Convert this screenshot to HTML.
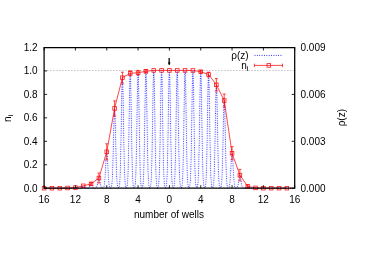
<!DOCTYPE html>
<html><head><meta charset="utf-8"><style>
html,body{margin:0;padding:0;background:#fff;}
svg{display:block;will-change:transform}
text{font-family:"Liberation Sans",sans-serif;font-size:10px;fill:#000}
</style></head><body>
<svg width="366" height="256" viewBox="0 0 366 256">
<rect width="366" height="256" fill="#fff"/>
<path d="M44.1,70.5H294.7" stroke="#a8a8a8" stroke-width="0.7" stroke-dasharray="1.5 1.5" fill="none"/>
<defs><filter id="b" x="-5%" y="-5%" width="110%" height="110%"><feConvolveMatrix order="3" kernelMatrix="0.0036 0.0528 0.0036 0.0528 0.7744 0.0528 0.0036 0.0528 0.0036" divisor="1" preserveAlpha="false"/></filter></defs>
<path d="M44.10,188.20 L44.20,188.20 L44.30,188.20 L44.40,188.20 L44.50,188.20 L44.60,188.20 L44.70,188.20 L44.80,188.20 L44.90,188.20 L45.00,188.20 L45.10,188.20 L45.20,188.20 L45.30,188.20 L45.40,188.20 L45.50,188.20 L45.60,188.20 L45.70,188.20 L45.80,188.20 L45.90,188.20 L46.00,188.20 L46.10,188.20 L46.20,188.20 L46.30,188.20 L46.40,188.20 L46.50,188.20 L46.60,188.20 L46.70,188.20 L46.80,188.20 L46.90,188.20 L47.00,188.20 L47.10,188.20 L47.20,188.20 L47.30,188.20 L47.40,188.20 L47.50,188.20 L47.60,188.20 L47.70,188.20 L47.80,188.20 L47.90,188.20 L48.00,188.20 L48.10,188.20 L48.20,188.20 L48.30,188.20 L48.40,188.20 L48.50,188.20 L48.60,188.20 L48.70,188.20 L48.80,188.20 L48.90,188.20 L49.00,188.20 L49.10,188.20 L49.20,188.20 L49.30,188.20 L49.40,188.20 L49.50,188.20 L49.60,188.20 L49.70,188.20 L49.80,188.20 L49.90,188.20 L50.00,188.20 L50.10,188.20 L50.20,188.20 L50.30,188.20 L50.40,188.20 L50.50,188.20 L50.60,188.20 L50.70,188.20 L50.80,188.20 L50.90,188.20 L51.00,188.20 L51.10,188.20 L51.20,188.20 L51.30,188.20 L51.40,188.20 L51.50,188.20 L51.60,188.20 L51.70,188.20 L51.80,188.20 L51.90,188.20 L52.00,188.20 L52.10,188.20 L52.20,188.20 L52.30,188.20 L52.40,188.20 L52.50,188.20 L52.60,188.20 L52.70,188.20 L52.80,188.20 L52.90,188.20 L53.00,188.20 L53.10,188.20 L53.20,188.20 L53.30,188.20 L53.40,188.20 L53.50,188.20 L53.60,188.20 L53.70,188.20 L53.80,188.20 L53.90,188.20 L54.00,188.20 L54.10,188.20 L54.20,188.20 L54.30,188.20 L54.40,188.20 L54.50,188.20 L54.60,188.20 L54.70,188.20 L54.80,188.20 L54.90,188.20 L55.00,188.20 L55.10,188.20 L55.20,188.20 L55.30,188.20 L55.40,188.20 L55.50,188.20 L55.60,188.20 L55.70,188.20 L55.80,188.20 L55.90,188.20 L56.00,188.20 L56.10,188.20 L56.20,188.20 L56.30,188.20 L56.40,188.20 L56.50,188.20 L56.60,188.20 L56.70,188.20 L56.80,188.20 L56.90,188.20 L57.00,188.20 L57.10,188.20 L57.20,188.20 L57.30,188.20 L57.40,188.20 L57.50,188.20 L57.60,188.20 L57.70,188.20 L57.80,188.20 L57.90,188.20 L58.00,188.20 L58.10,188.20 L58.20,188.20 L58.30,188.20 L58.40,188.20 L58.50,188.20 L58.60,188.20 L58.70,188.20 L58.80,188.20 L58.90,188.20 L59.00,188.20 L59.10,188.20 L59.20,188.20 L59.30,188.20 L59.40,188.20 L59.50,188.20 L59.60,188.20 L59.70,188.20 L59.80,188.20 L59.90,188.20 L60.00,188.20 L60.10,188.20 L60.20,188.20 L60.30,188.20 L60.40,188.20 L60.50,188.20 L60.60,188.20 L60.70,188.20 L60.80,188.20 L60.90,188.20 L61.00,188.20 L61.10,188.20 L61.20,188.20 L61.30,188.20 L61.40,188.20 L61.50,188.20 L61.60,188.20 L61.70,188.20 L61.80,188.20 L61.90,188.20 L62.00,188.20 L62.10,188.20 L62.20,188.20 L62.30,188.20 L62.40,188.20 L62.50,188.20 L62.60,188.20 L62.70,188.20 L62.80,188.20 L62.90,188.20 L63.00,188.20 L63.10,188.20 L63.20,188.20 L63.30,188.20 L63.40,188.20 L63.50,188.20 L63.60,188.20 L63.70,188.20 L63.80,188.20 L63.90,188.20 L64.00,188.20 L64.10,188.20 L64.20,188.20 L64.30,188.20 L64.40,188.20 L64.50,188.20 L64.60,188.19 L64.70,188.19 L64.80,188.19 L64.90,188.19 L65.00,188.19 L65.10,188.18 L65.20,188.18 L65.30,188.18 L65.40,188.17 L65.50,188.17 L65.60,188.16 L65.70,188.15 L65.80,188.15 L65.90,188.14 L66.00,188.13 L66.10,188.12 L66.20,188.11 L66.30,188.10 L66.40,188.09 L66.50,188.08 L66.60,188.07 L66.70,188.06 L66.80,188.04 L66.90,188.04 L67.00,188.03 L67.10,188.02 L67.20,188.01 L67.30,188.01 L67.40,188.00 L67.50,188.00 L67.60,188.00 L67.70,188.00 L67.80,188.00 L67.90,188.01 L68.00,188.01 L68.10,188.02 L68.20,188.03 L68.30,188.04 L68.40,188.05 L68.50,188.06 L68.60,188.07 L68.70,188.08 L68.80,188.09 L68.90,188.10 L69.00,188.11 L69.10,188.12 L69.20,188.13 L69.30,188.14 L69.40,188.15 L69.50,188.16 L69.60,188.16 L69.70,188.17 L69.80,188.17 L69.90,188.18 L70.00,188.18 L70.10,188.19 L70.20,188.19 L70.30,188.19 L70.40,188.19 L70.50,188.19 L70.60,188.20 L70.70,188.20 L70.80,188.20 L70.90,188.20 L71.00,188.20 L71.10,188.20 L71.20,188.20 L71.30,188.20 L71.40,188.20 L71.50,188.20 L71.60,188.20 L71.70,188.20 L71.80,188.20 L71.90,188.20 L72.00,188.20 L72.10,188.19 L72.20,188.19 L72.30,188.19 L72.40,188.19 L72.50,188.18 L72.60,188.18 L72.70,188.17 L72.80,188.16 L72.90,188.16 L73.00,188.15 L73.10,188.13 L73.20,188.12 L73.30,188.11 L73.40,188.09 L73.50,188.07 L73.60,188.05 L73.70,188.02 L73.80,188.00 L73.90,187.97 L74.00,187.94 L74.10,187.91 L74.20,187.87 L74.30,187.84 L74.40,187.81 L74.50,187.78 L74.60,187.74 L74.70,187.71 L74.80,187.69 L74.90,187.66 L75.00,187.64 L75.10,187.62 L75.20,187.61 L75.30,187.60 L75.40,187.60 L75.50,187.60 L75.60,187.61 L75.70,187.62 L75.80,187.64 L75.90,187.66 L76.00,187.68 L76.10,187.71 L76.20,187.73 L76.30,187.77 L76.40,187.80 L76.50,187.83 L76.60,187.86 L76.70,187.90 L76.80,187.93 L76.90,187.96 L77.00,187.99 L77.10,188.01 L77.20,188.04 L77.30,188.06 L77.40,188.08 L77.50,188.10 L77.60,188.12 L77.70,188.13 L77.80,188.14 L77.90,188.15 L78.00,188.16 L78.10,188.17 L78.20,188.18 L78.30,188.18 L78.40,188.18 L78.50,188.19 L78.60,188.19 L78.70,188.19 L78.80,188.19 L78.90,188.20 L79.00,188.20 L79.10,188.20 L79.20,188.20 L79.30,188.19 L79.40,188.19 L79.50,188.19 L79.60,188.19 L79.70,188.19 L79.80,188.18 L79.90,188.18 L80.00,188.17 L80.10,188.16 L80.20,188.15 L80.30,188.13 L80.40,188.12 L80.50,188.09 L80.60,188.07 L80.70,188.04 L80.80,188.00 L80.90,187.95 L81.00,187.90 L81.10,187.84 L81.20,187.78 L81.30,187.70 L81.40,187.61 L81.50,187.52 L81.60,187.42 L81.70,187.31 L81.80,187.19 L81.90,187.07 L82.00,186.94 L82.10,186.81 L82.20,186.68 L82.30,186.54 L82.40,186.42 L82.50,186.30 L82.60,186.18 L82.70,186.08 L82.80,185.99 L82.90,185.92 L83.00,185.86 L83.10,185.82 L83.20,185.80 L83.30,185.80 L83.40,185.82 L83.50,185.86 L83.60,185.92 L83.70,185.99 L83.80,186.08 L83.90,186.19 L84.00,186.30 L84.10,186.42 L84.20,186.55 L84.30,186.68 L84.40,186.81 L84.50,186.94 L84.60,187.07 L84.70,187.20 L84.80,187.31 L84.90,187.42 L85.00,187.52 L85.10,187.62 L85.20,187.70 L85.30,187.78 L85.40,187.85 L85.50,187.90 L85.60,187.96 L85.70,188.00 L85.80,188.04 L85.90,188.07 L86.00,188.09 L86.10,188.12 L86.20,188.13 L86.30,188.15 L86.40,188.16 L86.50,188.17 L86.60,188.18 L86.70,188.18 L86.80,188.18 L86.90,188.19 L87.00,188.19 L87.10,188.19 L87.20,188.19 L87.30,188.19 L87.40,188.18 L87.50,188.18 L87.60,188.17 L87.70,188.16 L87.80,188.15 L87.90,188.13 L88.00,188.11 L88.10,188.09 L88.20,188.06 L88.30,188.02 L88.40,187.98 L88.50,187.93 L88.60,187.86 L88.70,187.79 L88.80,187.70 L88.90,187.60 L89.00,187.48 L89.10,187.35 L89.20,187.20 L89.30,187.04 L89.40,186.86 L89.50,186.67 L89.60,186.46 L89.70,186.24 L89.80,186.02 L89.90,185.78 L90.00,185.54 L90.10,185.31 L90.20,185.08 L90.30,184.86 L90.40,184.65 L90.50,184.46 L90.60,184.29 L90.70,184.15 L90.80,184.04 L90.90,183.96 L91.00,183.91 L91.10,183.90 L91.20,183.93 L91.30,183.99 L91.40,184.08 L91.50,184.20 L91.60,184.35 L91.70,184.53 L91.80,184.73 L91.90,184.94 L92.00,185.17 L92.10,185.40 L92.20,185.64 L92.30,185.88 L92.40,186.11 L92.50,186.33 L92.60,186.54 L92.70,186.75 L92.80,186.93 L92.90,187.11 L93.00,187.26 L93.10,187.40 L93.20,187.53 L93.30,187.64 L93.40,187.73 L93.50,187.82 L93.60,187.89 L93.70,187.95 L93.80,188.00 L93.90,188.04 L94.00,188.07 L94.10,188.10 L94.20,188.12 L94.30,188.14 L94.40,188.15 L94.50,188.16 L94.60,188.17 L94.70,188.17 L94.80,188.18 L94.90,188.18 L95.00,188.17 L95.10,188.17 L95.20,188.16 L95.30,188.15 L95.40,188.14 L95.50,188.12 L95.60,188.09 L95.70,188.06 L95.80,188.01 L95.90,187.96 L96.00,187.89 L96.10,187.81 L96.20,187.71 L96.30,187.59 L96.40,187.45 L96.50,187.28 L96.60,187.08 L96.70,186.85 L96.80,186.59 L96.90,186.29 L97.00,185.95 L97.10,185.57 L97.20,185.16 L97.30,184.71 L97.40,184.23 L97.50,183.72 L97.60,183.19 L97.70,182.64 L97.80,182.08 L97.90,181.52 L98.00,180.97 L98.10,180.43 L98.20,179.93 L98.30,179.46 L98.40,179.05 L98.50,178.69 L98.60,178.40 L98.70,178.19 L98.80,178.05 L98.90,178.00 L99.00,178.03 L99.10,178.15 L99.20,178.34 L99.30,178.62 L99.40,178.96 L99.50,179.36 L99.60,179.81 L99.70,180.31 L99.80,180.84 L99.90,181.39 L100.00,181.95 L100.10,182.51 L100.20,183.06 L100.30,183.60 L100.40,184.11 L100.50,184.60 L100.60,185.06 L100.70,185.48 L100.80,185.86 L100.90,186.21 L101.00,186.52 L101.10,186.79 L101.20,187.03 L101.30,187.23 L101.40,187.41 L101.50,187.56 L101.60,187.68 L101.70,187.79 L101.80,187.87 L101.90,187.94 L102.00,188.00 L102.10,188.04 L102.20,188.08 L102.30,188.10 L102.40,188.12 L102.50,188.13 L102.60,188.13 L102.70,188.13 L102.80,188.12 L102.90,188.10 L103.00,188.08 L103.10,188.04 L103.20,187.99 L103.30,187.93 L103.40,187.84 L103.50,187.73 L103.60,187.59 L103.70,187.41 L103.80,187.19 L103.90,186.91 L104.00,186.58 L104.10,186.17 L104.20,185.69 L104.30,185.12 L104.40,184.44 L104.50,183.66 L104.60,182.75 L104.70,181.72 L104.80,180.56 L104.90,179.27 L105.00,177.84 L105.10,176.29 L105.20,174.61 L105.30,172.82 L105.40,170.94 L105.50,169.00 L105.60,167.00 L105.70,165.00 L105.80,163.01 L105.90,161.08 L106.00,159.24 L106.10,157.53 L106.20,155.99 L106.30,154.65 L106.40,153.54 L106.50,152.68 L106.60,152.11 L106.70,151.83 L106.80,151.85 L106.90,152.16 L107.00,152.77 L107.10,153.66 L107.20,154.80 L107.30,156.17 L107.40,157.73 L107.50,159.46 L107.60,161.31 L107.70,163.25 L107.80,165.24 L107.90,167.25 L108.00,169.23 L108.10,171.17 L108.20,173.04 L108.30,174.82 L108.40,176.48 L108.50,178.02 L108.60,179.43 L108.70,180.71 L108.80,181.85 L108.90,182.87 L109.00,183.76 L109.10,184.53 L109.20,185.19 L109.30,185.75 L109.40,186.23 L109.50,186.62 L109.60,186.95 L109.70,187.21 L109.80,187.43 L109.90,187.60 L110.00,187.73 L110.10,187.83 L110.20,187.91 L110.30,187.96 L110.40,188.00 L110.50,188.01 L110.60,188.01 L110.70,187.98 L110.80,187.94 L110.90,187.87 L111.00,187.77 L111.10,187.64 L111.20,187.47 L111.30,187.25 L111.40,186.96 L111.50,186.60 L111.60,186.14 L111.70,185.58 L111.80,184.89 L111.90,184.06 L112.00,183.06 L112.10,181.86 L112.20,180.46 L112.30,178.82 L112.40,176.92 L112.50,174.75 L112.60,172.30 L112.70,169.56 L112.80,166.53 L112.90,163.20 L113.00,159.61 L113.10,155.76 L113.20,151.71 L113.30,147.48 L113.40,143.14 L113.50,138.74 L113.60,134.37 L113.70,130.08 L113.80,125.98 L113.90,122.13 L114.00,118.62 L114.10,115.53 L114.20,112.93 L114.30,110.87 L114.40,109.41 L114.50,108.59 L114.60,108.42 L114.70,108.91 L114.80,110.04 L114.90,111.79 L115.00,114.11 L115.10,116.96 L115.20,120.26 L115.30,123.94 L115.40,127.92 L115.50,132.12 L115.60,136.46 L115.70,140.85 L115.80,145.23 L115.90,149.53 L116.00,153.68 L116.10,157.64 L116.20,161.37 L116.30,164.83 L116.40,168.02 L116.50,170.91 L116.60,173.52 L116.70,175.83 L116.80,177.86 L116.90,179.63 L117.00,181.16 L117.10,182.46 L117.20,183.56 L117.30,184.48 L117.40,185.24 L117.50,185.86 L117.60,186.37 L117.70,186.77 L117.80,187.09 L117.90,187.34 L118.00,187.54 L118.10,187.68 L118.20,187.78 L118.30,187.84 L118.40,187.87 L118.50,187.86 L118.60,187.82 L118.70,187.75 L118.80,187.64 L118.90,187.48 L119.00,187.27 L119.10,186.98 L119.20,186.62 L119.30,186.15 L119.40,185.57 L119.50,184.84 L119.60,183.95 L119.70,182.86 L119.80,181.55 L119.90,179.99 L120.00,178.14 L120.10,175.97 L120.20,173.46 L120.30,170.58 L120.40,167.32 L120.50,163.65 L120.60,159.58 L120.70,155.10 L120.80,150.24 L120.90,145.02 L121.00,139.49 L121.10,133.71 L121.20,127.74 L121.30,121.67 L121.40,115.59 L121.50,109.60 L121.60,103.83 L121.70,98.37 L121.80,93.35 L121.90,88.88 L122.00,85.05 L122.10,81.95 L122.20,79.66 L122.30,78.23 L122.40,77.70 L122.50,78.09 L122.60,79.37 L122.70,81.53 L122.80,84.50 L122.90,88.22 L123.00,92.60 L123.10,97.54 L123.20,102.93 L123.30,108.66 L123.40,114.62 L123.50,120.69 L123.60,126.77 L123.70,132.76 L123.80,138.58 L123.90,144.16 L124.00,149.43 L124.10,154.35 L124.20,158.89 L124.30,163.03 L124.40,166.76 L124.50,170.09 L124.60,173.03 L124.70,175.59 L124.80,177.81 L124.90,179.71 L125.00,181.32 L125.10,182.67 L125.20,183.79 L125.30,184.71 L125.40,185.46 L125.50,186.06 L125.60,186.54 L125.70,186.92 L125.80,187.21 L125.90,187.44 L126.00,187.60 L126.10,187.71 L126.20,187.77 L126.30,187.80 L126.40,187.79 L126.50,187.74 L126.60,187.64 L126.70,187.50 L126.80,187.30 L126.90,187.03 L127.00,186.68 L127.10,186.23 L127.20,185.67 L127.30,184.96 L127.40,184.10 L127.50,183.03 L127.60,181.75 L127.70,180.21 L127.80,178.38 L127.90,176.24 L128.00,173.75 L128.10,170.88 L128.20,167.62 L128.30,163.94 L128.40,159.84 L128.50,155.32 L128.60,150.39 L128.70,145.08 L128.80,139.43 L128.90,133.49 L129.00,127.33 L129.10,121.04 L129.20,114.71 L129.30,108.45 L129.40,102.36 L129.50,96.57 L129.60,91.19 L129.70,86.34 L129.80,82.13 L129.90,78.66 L130.00,76.00 L130.10,74.23 L130.20,73.38 L130.30,73.47 L130.40,74.51 L130.50,76.47 L130.60,79.29 L130.70,82.92 L130.80,87.27 L130.90,92.23 L131.00,97.70 L131.10,103.56 L131.20,109.69 L131.30,115.98 L131.40,122.31 L131.50,128.58 L131.60,134.70 L131.70,140.58 L131.80,146.17 L131.90,151.40 L132.00,156.25 L132.10,160.69 L132.20,164.71 L132.30,168.30 L132.40,171.49 L132.50,174.28 L132.60,176.70 L132.70,178.77 L132.80,180.54 L132.90,182.02 L133.00,183.26 L133.10,184.28 L133.20,185.12 L133.30,185.79 L133.40,186.33 L133.50,186.76 L133.60,187.09 L133.70,187.34 L133.80,187.53 L133.90,187.66 L134.00,187.74 L134.10,187.79 L134.20,187.79 L134.30,187.75 L134.40,187.67 L134.50,187.54 L134.60,187.36 L134.70,187.12 L134.80,186.79 L134.90,186.38 L135.00,185.85 L135.10,185.19 L135.20,184.37 L135.30,183.37 L135.40,182.16 L135.50,180.70 L135.60,178.96 L135.70,176.91 L135.80,174.52 L135.90,171.76 L136.00,168.61 L136.10,165.05 L136.20,161.07 L136.30,156.66 L136.40,151.83 L136.50,146.62 L136.60,141.04 L136.70,135.16 L136.80,129.04 L136.90,122.75 L137.00,116.39 L137.10,110.07 L137.20,103.88 L137.30,97.95 L137.40,92.40 L137.50,87.35 L137.60,82.90 L137.70,79.17 L137.80,76.23 L137.90,74.15 L138.00,73.00 L138.10,72.79 L138.20,73.53 L138.30,75.20 L138.40,77.77 L138.50,81.17 L138.60,85.31 L138.70,90.11 L138.80,95.46 L138.90,101.23 L139.00,107.32 L139.10,113.60 L139.20,119.96 L139.30,126.29 L139.40,132.49 L139.50,138.49 L139.60,144.21 L139.70,149.59 L139.80,154.59 L139.90,159.18 L140.00,163.35 L140.10,167.10 L140.20,170.43 L140.30,173.36 L140.40,175.90 L140.50,178.10 L140.60,179.97 L140.70,181.55 L140.80,182.87 L140.90,183.96 L141.00,184.85 L141.10,185.58 L141.20,186.16 L141.30,186.62 L141.40,186.99 L141.50,187.26 L141.60,187.47 L141.70,187.62 L141.80,187.72 L141.90,187.77 L142.00,187.79 L142.10,187.76 L142.20,187.70 L142.30,187.58 L142.40,187.42 L142.50,187.19 L142.60,186.89 L142.70,186.50 L142.80,186.01 L142.90,185.38 L143.00,184.61 L143.10,183.66 L143.20,182.50 L143.30,181.10 L143.40,179.44 L143.50,177.47 L143.60,175.16 L143.70,172.49 L143.80,169.43 L143.90,165.96 L144.00,162.06 L144.10,157.74 L144.20,152.98 L144.30,147.83 L144.40,142.29 L144.50,136.43 L144.60,130.30 L144.70,123.98 L144.80,117.55 L144.90,111.12 L145.00,104.80 L145.10,98.70 L145.20,92.95 L145.30,87.66 L145.40,82.95 L145.50,78.92 L145.60,75.68 L145.70,73.29 L145.80,71.82 L145.90,71.30 L146.00,71.74 L146.10,73.14 L146.20,75.46 L146.30,78.63 L146.40,82.60 L146.50,87.26 L146.60,92.51 L146.70,98.23 L146.80,104.30 L146.90,110.61 L147.00,117.04 L147.10,123.47 L147.20,129.80 L147.30,135.95 L147.40,141.84 L147.50,147.40 L147.60,152.59 L147.70,157.37 L147.80,161.73 L147.90,165.67 L148.00,169.17 L148.10,172.26 L148.20,174.96 L148.30,177.30 L148.40,179.29 L148.50,180.98 L148.60,182.40 L148.70,183.57 L148.80,184.54 L148.90,185.33 L149.00,185.96 L149.10,186.47 L149.20,186.86 L149.30,187.17 L149.40,187.40 L149.50,187.57 L149.60,187.69 L149.70,187.76 L149.80,187.78 L149.90,187.77 L150.00,187.72 L150.10,187.62 L150.20,187.47 L150.30,187.26 L150.40,186.99 L150.50,186.63 L150.60,186.16 L150.70,185.58 L150.80,184.85 L150.90,183.95 L151.00,182.85 L151.10,181.53 L151.20,179.94 L151.30,178.06 L151.40,175.84 L151.50,173.28 L151.60,170.32 L151.70,166.96 L151.80,163.17 L151.90,158.94 L152.00,154.29 L152.10,149.22 L152.20,143.76 L152.30,137.96 L152.40,131.86 L152.50,125.54 L152.60,119.09 L152.70,112.60 L152.80,106.18 L152.90,99.95 L153.00,94.03 L153.10,88.53 L153.20,83.59 L153.30,79.30 L153.40,75.77 L153.50,73.08 L153.60,71.30 L153.70,70.46 L153.80,70.60 L153.90,71.70 L154.00,73.74 L154.10,76.68 L154.20,80.43 L154.30,84.91 L154.40,90.02 L154.50,95.65 L154.60,101.67 L154.70,107.96 L154.80,114.41 L154.90,120.90 L155.00,127.33 L155.10,133.59 L155.20,139.61 L155.30,145.33 L155.40,150.68 L155.50,155.64 L155.60,160.17 L155.70,164.27 L155.80,167.94 L155.90,171.19 L156.00,174.03 L156.10,176.50 L156.20,178.61 L156.30,180.41 L156.40,181.92 L156.50,183.18 L156.60,184.22 L156.70,185.07 L156.80,185.76 L156.90,186.30 L157.00,186.74 L157.10,187.07 L157.20,187.33 L157.30,187.52 L157.40,187.65 L157.50,187.74 L157.60,187.78 L157.70,187.78 L157.80,187.74 L157.90,187.66 L158.00,187.52 L158.10,187.34 L158.20,187.08 L158.30,186.75 L158.40,186.32 L158.50,185.78 L158.60,185.10 L158.70,184.26 L158.80,183.23 L158.90,181.98 L159.00,180.48 L159.10,178.69 L159.20,176.59 L159.30,174.14 L159.40,171.31 L159.50,168.08 L159.60,164.43 L159.70,160.34 L159.80,155.83 L159.90,150.89 L160.00,145.55 L160.10,139.85 L160.20,133.84 L160.30,127.58 L160.40,121.16 L160.50,114.67 L160.60,108.22 L160.70,101.91 L160.80,95.88 L160.90,90.24 L161.00,85.10 L161.10,80.59 L161.20,76.81 L161.30,73.84 L161.40,71.77 L161.50,70.62 L161.60,70.45 L161.70,71.25 L161.80,72.99 L161.90,75.65 L162.00,79.14 L162.10,83.40 L162.20,88.32 L162.30,93.80 L162.40,99.71 L162.50,105.93 L162.60,112.34 L162.70,118.83 L162.80,125.28 L162.90,131.61 L163.00,137.72 L163.10,143.54 L163.20,149.01 L163.30,154.10 L163.40,158.77 L163.50,163.01 L163.60,166.81 L163.70,170.19 L163.80,173.16 L163.90,175.75 L164.00,177.97 L164.10,179.87 L164.20,181.47 L164.30,182.81 L164.40,183.91 L164.50,184.82 L164.60,185.55 L164.70,186.14 L164.80,186.61 L164.90,186.97 L165.00,187.25 L165.10,187.46 L165.20,187.61 L165.30,187.71 L165.40,187.77 L165.50,187.78 L165.60,187.76 L165.70,187.69 L165.80,187.57 L165.90,187.40 L166.00,187.17 L166.10,186.87 L166.20,186.47 L166.30,185.97 L166.40,185.33 L166.50,184.55 L166.60,183.58 L166.70,182.41 L166.80,180.99 L166.90,179.30 L167.00,177.30 L167.10,174.96 L167.20,172.26 L167.30,169.16 L167.40,165.64 L167.50,161.70 L167.60,157.32 L167.70,152.51 L167.80,147.30 L167.90,141.71 L168.00,135.79 L168.10,129.61 L168.20,123.23 L168.30,116.75 L168.40,110.27 L168.50,103.91 L168.60,97.77 L168.70,91.99 L168.80,86.68 L168.90,81.96 L169.00,77.94 L169.10,74.70 L169.20,72.33 L169.30,70.89 L169.40,70.40 L169.50,70.89 L169.60,72.33 L169.70,74.70 L169.80,77.94 L169.90,81.96 L170.00,86.68 L170.10,91.99 L170.20,97.77 L170.30,103.91 L170.40,110.27 L170.50,116.75 L170.60,123.23 L170.70,129.61 L170.80,135.79 L170.90,141.71 L171.00,147.30 L171.10,152.51 L171.20,157.32 L171.30,161.70 L171.40,165.64 L171.50,169.16 L171.60,172.26 L171.70,174.96 L171.80,177.30 L171.90,179.30 L172.00,180.99 L172.10,182.41 L172.20,183.58 L172.30,184.55 L172.40,185.33 L172.50,185.97 L172.60,186.47 L172.70,186.87 L172.80,187.17 L172.90,187.40 L173.00,187.57 L173.10,187.69 L173.20,187.76 L173.30,187.78 L173.40,187.77 L173.50,187.71 L173.60,187.61 L173.70,187.46 L173.80,187.25 L173.90,186.97 L174.00,186.61 L174.10,186.14 L174.20,185.55 L174.30,184.82 L174.40,183.91 L174.50,182.81 L174.60,181.47 L174.70,179.87 L174.80,177.97 L174.90,175.75 L175.00,173.16 L175.10,170.19 L175.20,166.81 L175.30,163.01 L175.40,158.77 L175.50,154.10 L175.60,149.01 L175.70,143.54 L175.80,137.72 L175.90,131.61 L176.00,125.28 L176.10,118.83 L176.20,112.34 L176.30,105.93 L176.40,99.71 L176.50,93.80 L176.60,88.32 L176.70,83.40 L176.80,79.14 L176.90,75.65 L177.00,72.99 L177.10,71.25 L177.20,70.45 L177.30,70.62 L177.40,71.77 L177.50,73.84 L177.60,76.81 L177.70,80.59 L177.80,85.10 L177.90,90.24 L178.00,95.88 L178.10,101.91 L178.20,108.22 L178.30,114.67 L178.40,121.16 L178.50,127.58 L178.60,133.84 L178.70,139.85 L178.80,145.55 L178.90,150.89 L179.00,155.83 L179.10,160.34 L179.20,164.43 L179.30,168.08 L179.40,171.31 L179.50,174.14 L179.60,176.59 L179.70,178.69 L179.80,180.48 L179.90,181.98 L180.00,183.23 L180.10,184.26 L180.20,185.10 L180.30,185.78 L180.40,186.32 L180.50,186.75 L180.60,187.08 L180.70,187.34 L180.80,187.52 L180.90,187.66 L181.00,187.74 L181.10,187.78 L181.20,187.78 L181.30,187.74 L181.40,187.65 L181.50,187.52 L181.60,187.33 L181.70,187.07 L181.80,186.74 L181.90,186.30 L182.00,185.76 L182.10,185.07 L182.20,184.22 L182.30,183.18 L182.40,181.92 L182.50,180.41 L182.60,178.61 L182.70,176.50 L182.80,174.03 L182.90,171.19 L183.00,167.94 L183.10,164.27 L183.20,160.17 L183.30,155.64 L183.40,150.68 L183.50,145.33 L183.60,139.61 L183.70,133.59 L183.80,127.33 L183.90,120.90 L184.00,114.41 L184.10,107.96 L184.20,101.67 L184.30,95.65 L184.40,90.02 L184.50,84.91 L184.60,80.43 L184.70,76.68 L184.80,73.74 L184.90,71.70 L185.00,70.60 L185.10,70.46 L185.20,71.30 L185.30,73.08 L185.40,75.77 L185.50,79.30 L185.60,83.59 L185.70,88.53 L185.80,94.03 L185.90,99.95 L186.00,106.18 L186.10,112.60 L186.20,119.09 L186.30,125.54 L186.40,131.86 L186.50,137.96 L186.60,143.76 L186.70,149.22 L186.80,154.29 L186.90,158.94 L187.00,163.17 L187.10,166.96 L187.20,170.32 L187.30,173.28 L187.40,175.84 L187.50,178.06 L187.60,179.94 L187.70,181.53 L187.80,182.85 L187.90,183.95 L188.00,184.85 L188.10,185.58 L188.20,186.16 L188.30,186.63 L188.40,186.99 L188.50,187.26 L188.60,187.47 L188.70,187.62 L188.80,187.72 L188.90,187.77 L189.00,187.78 L189.10,187.75 L189.20,187.68 L189.30,187.57 L189.40,187.40 L189.50,187.16 L189.60,186.85 L189.70,186.46 L189.80,185.95 L189.90,185.31 L190.00,184.52 L190.10,183.54 L190.20,182.36 L190.30,180.93 L190.40,179.23 L190.50,177.22 L190.60,174.87 L190.70,172.15 L190.80,169.04 L190.90,165.51 L191.00,161.55 L191.10,157.16 L191.20,152.34 L191.30,147.12 L191.40,141.52 L191.50,135.59 L191.60,129.40 L191.70,123.03 L191.80,116.55 L191.90,110.08 L192.00,103.73 L192.10,97.61 L192.20,91.85 L192.30,86.57 L192.40,81.88 L192.50,77.89 L192.60,74.69 L192.70,72.35 L192.80,70.95 L192.90,70.50 L193.00,71.02 L193.10,72.51 L193.20,74.91 L193.30,78.18 L193.40,82.23 L193.50,86.97 L193.60,92.30 L193.70,98.09 L193.80,104.23 L193.90,110.60 L194.00,117.07 L194.10,123.54 L194.20,129.91 L194.30,136.08 L194.40,141.98 L194.50,147.55 L194.60,152.74 L194.70,157.53 L194.80,161.89 L194.90,165.81 L195.00,169.31 L195.10,172.39 L195.20,175.07 L195.30,177.39 L195.40,179.38 L195.50,181.06 L195.60,182.46 L195.70,183.63 L195.80,184.59 L195.90,185.37 L196.00,185.99 L196.10,186.49 L196.20,186.88 L196.30,187.18 L196.40,187.41 L196.50,187.58 L196.60,187.69 L196.70,187.76 L196.80,187.79 L196.90,187.77 L197.00,187.71 L197.10,187.61 L197.20,187.46 L197.30,187.25 L197.40,186.97 L197.50,186.61 L197.60,186.14 L197.70,185.56 L197.80,184.82 L197.90,183.92 L198.00,182.82 L198.10,181.49 L198.20,179.89 L198.30,178.00 L198.40,175.79 L198.50,173.22 L198.60,170.27 L198.70,166.91 L198.80,163.13 L198.90,158.92 L199.00,154.28 L199.10,149.23 L199.20,143.81 L199.30,138.04 L199.40,131.99 L199.50,125.73 L199.60,119.34 L199.70,112.92 L199.80,106.58 L199.90,100.44 L200.00,94.61 L200.10,89.22 L200.20,84.38 L200.30,80.19 L200.40,76.77 L200.50,74.18 L200.60,72.49 L200.70,71.74 L200.80,71.95 L200.90,73.12 L201.00,75.21 L201.10,78.17 L201.20,81.95 L201.30,86.43 L201.40,91.53 L201.50,97.13 L201.60,103.11 L201.70,109.35 L201.80,115.74 L201.90,122.16 L202.00,128.50 L202.10,134.68 L202.20,140.61 L202.30,146.24 L202.40,151.50 L202.50,156.37 L202.60,160.82 L202.70,164.84 L202.80,168.44 L202.90,171.62 L203.00,174.40 L203.10,176.81 L203.20,178.87 L203.30,180.63 L203.40,182.10 L203.50,183.33 L203.60,184.34 L203.70,185.17 L203.80,185.83 L203.90,186.36 L204.00,186.78 L204.10,187.11 L204.20,187.36 L204.30,187.54 L204.40,187.67 L204.50,187.75 L204.60,187.79 L204.70,187.79 L204.80,187.75 L204.90,187.66 L205.00,187.53 L205.10,187.35 L205.20,187.10 L205.30,186.77 L205.40,186.35 L205.50,185.82 L205.60,185.15 L205.70,184.32 L205.80,183.31 L205.90,182.09 L206.00,180.62 L206.10,178.87 L206.20,176.82 L206.30,174.42 L206.40,171.66 L206.50,168.51 L206.60,164.95 L206.70,160.98 L206.80,156.59 L206.90,151.79 L207.00,146.61 L207.10,141.08 L207.20,135.25 L207.30,129.20 L207.40,123.00 L207.50,116.73 L207.60,110.51 L207.70,104.44 L207.80,98.64 L207.90,93.23 L208.00,88.32 L208.10,84.02 L208.20,80.43 L208.30,77.63 L208.40,75.70 L208.50,74.67 L208.60,74.58 L208.70,75.42 L208.80,77.17 L208.90,79.80 L209.00,83.24 L209.10,87.41 L209.20,92.20 L209.30,97.52 L209.40,103.26 L209.50,109.28 L209.60,115.48 L209.70,121.74 L209.80,127.97 L209.90,134.06 L210.00,139.94 L210.10,145.53 L210.20,150.78 L210.30,155.66 L210.40,160.13 L210.50,164.19 L210.60,167.83 L210.70,171.06 L210.80,173.90 L210.90,176.37 L211.00,178.49 L211.10,180.29 L211.20,181.82 L211.30,183.09 L211.40,184.14 L211.50,185.00 L211.60,185.70 L211.70,186.25 L211.80,186.70 L211.90,187.04 L212.00,187.31 L212.10,187.51 L212.20,187.65 L212.30,187.75 L212.40,187.80 L212.50,187.82 L212.60,187.79 L212.70,187.73 L212.80,187.63 L212.90,187.48 L213.00,187.28 L213.10,187.00 L213.20,186.65 L213.30,186.20 L213.40,185.63 L213.50,184.93 L213.60,184.07 L213.70,183.02 L213.80,181.76 L213.90,180.25 L214.00,178.48 L214.10,176.40 L214.20,174.00 L214.30,171.25 L214.40,168.14 L214.50,164.64 L214.60,160.77 L214.70,156.52 L214.80,151.92 L214.90,146.99 L215.00,141.77 L215.10,136.33 L215.20,130.72 L215.30,125.03 L215.40,119.35 L215.50,113.77 L215.60,108.41 L215.70,103.36 L215.80,98.74 L215.90,94.64 L216.00,91.16 L216.10,88.38 L216.20,86.36 L216.30,85.16 L216.40,84.80 L216.50,85.30 L216.60,86.63 L216.70,88.77 L216.80,91.67 L216.90,95.26 L217.00,99.45 L217.10,104.15 L217.20,109.25 L217.30,114.65 L217.40,120.25 L217.50,125.94 L217.60,131.62 L217.70,137.21 L217.80,142.62 L217.90,147.80 L218.00,152.68 L218.10,157.23 L218.20,161.42 L218.30,165.23 L218.40,168.66 L218.50,171.72 L218.60,174.41 L218.70,176.76 L218.80,178.78 L218.90,180.51 L219.00,181.98 L219.10,183.20 L219.20,184.22 L219.30,185.06 L219.40,185.74 L219.50,186.28 L219.60,186.72 L219.70,187.06 L219.80,187.32 L219.90,187.52 L220.00,187.67 L220.10,187.77 L220.20,187.83 L220.30,187.86 L220.40,187.86 L220.50,187.82 L220.60,187.75 L220.70,187.63 L220.80,187.48 L220.90,187.26 L221.00,186.99 L221.10,186.63 L221.20,186.19 L221.30,185.63 L221.40,184.95 L221.50,184.11 L221.60,183.10 L221.70,181.89 L221.80,180.46 L221.90,178.79 L222.00,176.84 L222.10,174.60 L222.20,172.06 L222.30,169.20 L222.40,166.02 L222.50,162.52 L222.60,158.71 L222.70,154.61 L222.80,150.26 L222.90,145.70 L223.00,140.98 L223.10,136.17 L223.20,131.34 L223.30,126.57 L223.40,121.96 L223.50,117.58 L223.60,113.53 L223.70,109.91 L223.80,106.78 L223.90,104.22 L224.00,102.30 L224.10,101.06 L224.20,100.52 L224.30,100.71 L224.40,101.62 L224.50,103.22 L224.60,105.48 L224.70,108.34 L224.80,111.74 L224.90,115.59 L225.00,119.82 L225.10,124.33 L225.20,129.04 L225.30,133.85 L225.40,138.68 L225.50,143.45 L225.60,148.09 L225.70,152.55 L225.80,156.78 L225.90,160.73 L226.00,164.38 L226.10,167.72 L226.20,170.73 L226.30,173.42 L226.40,175.80 L226.50,177.89 L226.60,179.69 L226.70,181.24 L226.80,182.55 L226.90,183.65 L227.00,184.57 L227.10,185.32 L227.20,185.94 L227.30,186.44 L227.40,186.84 L227.50,187.15 L227.60,187.40 L227.70,187.59 L227.80,187.74 L227.90,187.84 L228.00,187.92 L228.10,187.97 L228.20,188.00 L228.30,188.01 L228.40,188.00 L228.50,187.97 L228.60,187.92 L228.70,187.84 L228.80,187.75 L228.90,187.62 L229.00,187.45 L229.10,187.25 L229.20,186.99 L229.30,186.68 L229.40,186.30 L229.50,185.85 L229.60,185.30 L229.70,184.67 L229.80,183.93 L229.90,183.07 L230.00,182.10 L230.10,181.00 L230.20,179.77 L230.30,178.41 L230.40,176.93 L230.50,175.33 L230.60,173.62 L230.70,171.83 L230.80,169.96 L230.90,168.05 L231.00,166.12 L231.10,164.21 L231.20,162.34 L231.30,160.56 L231.40,158.90 L231.50,157.40 L231.60,156.08 L231.70,154.99 L231.80,154.14 L231.90,153.55 L232.00,153.25 L232.10,153.23 L232.20,153.50 L232.30,154.05 L232.40,154.87 L232.50,155.94 L232.60,157.23 L232.70,158.71 L232.80,160.36 L232.90,162.12 L233.00,163.98 L233.10,165.89 L233.20,167.82 L233.30,169.74 L233.40,171.61 L233.50,173.41 L233.60,175.13 L233.70,176.74 L233.80,178.24 L233.90,179.61 L234.00,180.86 L234.10,181.97 L234.20,182.96 L234.30,183.83 L234.40,184.59 L234.50,185.23 L234.60,185.79 L234.70,186.25 L234.80,186.64 L234.90,186.96 L235.00,187.23 L235.10,187.44 L235.20,187.61 L235.30,187.75 L235.40,187.85 L235.50,187.94 L235.60,188.00 L235.70,188.05 L235.80,188.08 L235.90,188.10 L236.00,188.12 L236.10,188.12 L236.20,188.12 L236.30,188.12 L236.40,188.10 L236.50,188.08 L236.60,188.04 L236.70,188.00 L236.80,187.94 L236.90,187.87 L237.00,187.78 L237.10,187.67 L237.20,187.54 L237.30,187.38 L237.40,187.18 L237.50,186.96 L237.60,186.69 L237.70,186.39 L237.80,186.04 L237.90,185.64 L238.00,185.20 L238.10,184.70 L238.20,184.16 L238.30,183.58 L238.40,182.95 L238.50,182.29 L238.60,181.60 L238.70,180.89 L238.80,180.17 L238.90,179.45 L239.00,178.74 L239.10,178.06 L239.20,177.43 L239.30,176.84 L239.40,176.33 L239.50,175.89 L239.60,175.54 L239.70,175.29 L239.80,175.14 L239.90,175.10 L240.00,175.17 L240.10,175.34 L240.20,175.62 L240.30,175.99 L240.40,176.44 L240.50,176.98 L240.60,177.58 L240.70,178.22 L240.80,178.91 L240.90,179.62 L241.00,180.34 L241.10,181.06 L241.20,181.77 L241.30,182.45 L241.40,183.11 L241.50,183.72 L241.60,184.30 L241.70,184.83 L241.80,185.31 L241.90,185.74 L242.00,186.13 L242.10,186.47 L242.20,186.76 L242.30,187.02 L242.40,187.23 L242.50,187.42 L242.60,187.57 L242.70,187.70 L242.80,187.81 L242.90,187.89 L243.00,187.96 L243.10,188.02 L243.20,188.06 L243.30,188.09 L243.40,188.12 L243.50,188.14 L243.60,188.15 L243.70,188.17 L243.80,188.17 L243.90,188.18 L244.00,188.18 L244.10,188.18 L244.20,188.18 L244.30,188.18 L244.40,188.18 L244.50,188.17 L244.60,188.17 L244.70,188.16 L244.80,188.15 L244.90,188.13 L245.00,188.12 L245.10,188.09 L245.20,188.07 L245.30,188.04 L245.40,188.01 L245.50,187.97 L245.60,187.92 L245.70,187.87 L245.80,187.81 L245.90,187.74 L246.00,187.67 L246.10,187.59 L246.20,187.51 L246.30,187.42 L246.40,187.32 L246.50,187.23 L246.60,187.13 L246.70,187.03 L246.80,186.93 L246.90,186.84 L247.00,186.75 L247.10,186.66 L247.20,186.59 L247.30,186.53 L247.40,186.47 L247.50,186.44 L247.60,186.41 L247.70,186.40 L247.80,186.40 L247.90,186.42 L248.00,186.46 L248.10,186.50 L248.20,186.56 L248.30,186.63 L248.40,186.71 L248.50,186.80 L248.60,186.89 L248.70,186.99 L248.80,187.09 L248.90,187.19 L249.00,187.29 L249.10,187.38 L249.20,187.47 L249.30,187.56 L249.40,187.64 L249.50,187.71 L249.60,187.78 L249.70,187.84 L249.80,187.90 L249.90,187.95 L250.00,187.99 L250.10,188.03 L250.20,188.06 L250.30,188.08 L250.40,188.11 L250.50,188.13 L250.60,188.14 L250.70,188.15 L250.80,188.16 L250.90,188.17 L251.00,188.18 L251.10,188.18 L251.20,188.19 L251.30,188.19 L251.40,188.19 L251.50,188.19 L251.60,188.20 L251.70,188.20 L251.80,188.20 L251.90,188.20 L252.00,188.20 L252.10,188.20 L252.20,188.20 L252.30,188.20 L252.40,188.19 L252.50,188.19 L252.60,188.19 L252.70,188.19 L252.80,188.19 L252.90,188.18 L253.00,188.18 L253.10,188.17 L253.20,188.17 L253.30,188.16 L253.40,188.16 L253.50,188.15 L253.60,188.14 L253.70,188.13 L253.80,188.12 L253.90,188.10 L254.00,188.09 L254.10,188.07 L254.20,188.06 L254.30,188.04 L254.40,188.03 L254.50,188.01 L254.60,187.99 L254.70,187.98 L254.80,187.96 L254.90,187.95 L255.00,187.94 L255.10,187.92 L255.20,187.91 L255.30,187.91 L255.40,187.90 L255.50,187.90 L255.60,187.90 L255.70,187.90 L255.80,187.91 L255.90,187.91 L256.00,187.92 L256.10,187.94 L256.20,187.95 L256.30,187.96 L256.40,187.98 L256.50,187.99 L256.60,188.01 L256.70,188.03 L256.80,188.04 L256.90,188.06 L257.00,188.07 L257.10,188.09 L257.20,188.10 L257.30,188.12 L257.40,188.13 L257.50,188.14 L257.60,188.15 L257.70,188.16 L257.80,188.16 L257.90,188.17 L258.00,188.17 L258.10,188.18 L258.20,188.18 L258.30,188.19 L258.40,188.19 L258.50,188.19 L258.60,188.19 L258.70,188.20 L258.80,188.20 L258.90,188.20 L259.00,188.20 L259.10,188.20 L259.20,188.20 L259.30,188.20 L259.40,188.20 L259.50,188.20 L259.60,188.20 L259.70,188.20 L259.80,188.20 L259.90,188.20 L260.00,188.20 L260.10,188.20 L260.20,188.20 L260.30,188.20 L260.40,188.20 L260.50,188.20 L260.60,188.20 L260.70,188.20 L260.80,188.20 L260.90,188.20 L261.00,188.20 L261.10,188.20 L261.20,188.20 L261.30,188.20 L261.40,188.20 L261.50,188.20 L261.60,188.20 L261.70,188.20 L261.80,188.20 L261.90,188.20 L262.00,188.20 L262.10,188.20 L262.20,188.20 L262.30,188.20 L262.40,188.20 L262.50,188.20 L262.60,188.20 L262.70,188.20 L262.80,188.20 L262.90,188.20 L263.00,188.20 L263.10,188.20 L263.20,188.20 L263.30,188.20 L263.40,188.20 L263.50,188.20 L263.60,188.20 L263.70,188.20 L263.80,188.20 L263.90,188.20 L264.00,188.20 L264.10,188.20 L264.20,188.20 L264.30,188.20 L264.40,188.20 L264.50,188.20 L264.60,188.20 L264.70,188.20 L264.80,188.20 L264.90,188.20 L265.00,188.20 L265.10,188.20 L265.20,188.20 L265.30,188.20 L265.40,188.20 L265.50,188.20 L265.60,188.20 L265.70,188.20 L265.80,188.20 L265.90,188.20 L266.00,188.20 L266.10,188.20 L266.20,188.20 L266.30,188.20 L266.40,188.20 L266.50,188.20 L266.60,188.20 L266.70,188.20 L266.80,188.20 L266.90,188.20 L267.00,188.20 L267.10,188.20 L267.20,188.20 L267.30,188.20 L267.40,188.20 L267.50,188.20 L267.60,188.20 L267.70,188.20 L267.80,188.20 L267.90,188.20 L268.00,188.20 L268.10,188.20 L268.20,188.20 L268.30,188.20 L268.40,188.20 L268.50,188.20 L268.60,188.20 L268.70,188.20 L268.80,188.20 L268.90,188.20 L269.00,188.20 L269.10,188.20 L269.20,188.20 L269.30,188.20 L269.40,188.20 L269.50,188.20 L269.60,188.20 L269.70,188.20 L269.80,188.20 L269.90,188.20 L270.00,188.20 L270.10,188.20 L270.20,188.20 L270.30,188.20 L270.40,188.20 L270.50,188.20 L270.60,188.20 L270.70,188.20 L270.80,188.20 L270.90,188.20 L271.00,188.20 L271.10,188.20 L271.20,188.20 L271.30,188.20 L271.40,188.20 L271.50,188.20 L271.60,188.20 L271.70,188.20 L271.80,188.20 L271.90,188.20 L272.00,188.20 L272.10,188.20 L272.20,188.20 L272.30,188.20 L272.40,188.20 L272.50,188.20 L272.60,188.20 L272.70,188.20 L272.80,188.20 L272.90,188.20 L273.00,188.20 L273.10,188.20 L273.20,188.20 L273.30,188.20 L273.40,188.20 L273.50,188.20 L273.60,188.20 L273.70,188.20 L273.80,188.20 L273.90,188.20 L274.00,188.20 L274.10,188.20 L274.20,188.20 L274.30,188.20 L274.40,188.20 L274.50,188.20 L274.60,188.20 L274.70,188.20 L274.80,188.20 L274.90,188.20 L275.00,188.20 L275.10,188.20 L275.20,188.20 L275.30,188.20 L275.40,188.20 L275.50,188.20 L275.60,188.20 L275.70,188.20 L275.80,188.20 L275.90,188.20 L276.00,188.20 L276.10,188.20 L276.20,188.20 L276.30,188.20 L276.40,188.20 L276.50,188.20 L276.60,188.20 L276.70,188.20 L276.80,188.20 L276.90,188.20 L277.00,188.20 L277.10,188.20 L277.20,188.20 L277.30,188.20 L277.40,188.20 L277.50,188.20 L277.60,188.20 L277.70,188.20 L277.80,188.20 L277.90,188.20 L278.00,188.20 L278.10,188.20 L278.20,188.20 L278.30,188.20 L278.40,188.20 L278.50,188.20 L278.60,188.20 L278.70,188.20 L278.80,188.20 L278.90,188.20 L279.00,188.20 L279.10,188.20 L279.20,188.20 L279.30,188.20 L279.40,188.20 L279.50,188.20 L279.60,188.20 L279.70,188.20 L279.80,188.20 L279.90,188.20 L280.00,188.20 L280.10,188.20 L280.20,188.20 L280.30,188.20 L280.40,188.20 L280.50,188.20 L280.60,188.20 L280.70,188.20 L280.80,188.20 L280.90,188.20 L281.00,188.20 L281.10,188.20 L281.20,188.20 L281.30,188.20 L281.40,188.20 L281.50,188.20 L281.60,188.20 L281.70,188.20 L281.80,188.20 L281.90,188.20 L282.00,188.20 L282.10,188.20 L282.20,188.20 L282.30,188.20 L282.40,188.20 L282.50,188.20 L282.60,188.20 L282.70,188.20 L282.80,188.20 L282.90,188.20 L283.00,188.20 L283.10,188.20 L283.20,188.20 L283.30,188.20 L283.40,188.20 L283.50,188.20 L283.60,188.20 L283.70,188.20 L283.80,188.20 L283.90,188.20 L284.00,188.20 L284.10,188.20 L284.20,188.20 L284.30,188.20 L284.40,188.20 L284.50,188.20 L284.60,188.20 L284.70,188.20 L284.80,188.20 L284.90,188.20 L285.00,188.20 L285.10,188.20 L285.20,188.20 L285.30,188.20 L285.40,188.20 L285.50,188.20 L285.60,188.20 L285.70,188.20 L285.80,188.20 L285.90,188.20 L286.00,188.20 L286.10,188.20 L286.20,188.20 L286.30,188.20 L286.40,188.20 L286.50,188.20 L286.60,188.20 L286.70,188.20 L286.80,188.20 L286.90,188.20 L287.00,188.20 L287.10,188.20 L287.20,188.20 L287.30,188.20 L287.40,188.20 L287.50,188.20 L287.60,188.20 L287.70,188.20 L287.80,188.20 L287.90,188.20 L288.00,188.20 L288.10,188.20 L288.20,188.20 L288.30,188.20 L288.40,188.20 L288.50,188.20 L288.60,188.20 L288.70,188.20 L288.80,188.20 L288.90,188.20 L289.00,188.20 L289.10,188.20 L289.20,188.20 L289.30,188.20 L289.40,188.20 L289.50,188.20 L289.60,188.20 L289.70,188.20 L289.80,188.20 L289.90,188.20 L290.00,188.20 L290.10,188.20 L290.20,188.20 L290.30,188.20 L290.40,188.20 L290.50,188.20 L290.60,188.20 L290.70,188.20 L290.80,188.20 L290.90,188.20 L291.00,188.20 L291.10,188.20 L291.20,188.20 L291.30,188.20 L291.40,188.20 L291.50,188.20 L291.60,188.20 L291.70,188.20 L291.80,188.20 L291.90,188.20 L292.00,188.20 L292.10,188.20 L292.20,188.20 L292.30,188.20 L292.40,188.20 L292.50,188.20 L292.60,188.20 L292.70,188.20 L292.80,188.20 L292.90,188.20 L293.00,188.20 L293.10,188.20 L293.20,188.20 L293.30,188.20 L293.40,188.20 L293.50,188.20 L293.60,188.20 L293.70,188.20 L293.80,188.20 L293.90,188.20 L294.00,188.20 L294.10,188.20 L294.20,188.20 L294.30,188.20 L294.40,188.20 L294.50,188.20 L294.60,188.20 L294.70,188.20" stroke="#0000ff" stroke-width="1.05" stroke-dasharray="0.01 2.3" stroke-linecap="round" fill="none" filter="url(#b)"/>
<path d="M255,55.4H282" stroke="#0000ff" stroke-width="1.0" stroke-dasharray="0.01 2.35" stroke-linecap="round" fill="none"/>
<g stroke="#ff0000" stroke-width="0.8" stroke-opacity="0.9" fill="none">
<path d="M44.09,188.20 L51.92,188.20 L59.75,188.20 L67.58,188.00 L75.42,187.60 L83.25,185.80 L91.08,183.90 L98.91,178.00 L106.74,151.80 L114.58,108.40 L122.41,77.70 L130.24,73.30 L138.07,72.75 L145.90,71.30 L153.74,70.40 L161.57,70.40 L169.40,70.40 L177.23,70.40 L185.06,70.40 L192.90,70.50 L200.73,71.70 L208.56,74.50 L216.39,84.80 L224.22,100.50 L232.06,153.20 L239.89,175.10 L247.72,186.40 L255.55,187.90 L263.38,188.20 L271.22,188.20 L279.05,188.20 L286.88,188.20"/>
<path d="M91.08,182.40V185.40M89.58,182.40h3M89.58,185.40h3"/><path d="M98.91,173.00V183.00M97.41,173.00h3M97.41,183.00h3"/><path d="M106.74,143.80V159.80M105.24,143.80h3M105.24,159.80h3"/><path d="M114.58,100.90V115.90M113.08,100.90h3M113.08,115.90h3"/><path d="M122.41,72.20V83.20M120.91,72.20h3M120.91,83.20h3"/><path d="M130.24,70.80V75.80M128.74,70.80h3M128.74,75.80h3"/><path d="M138.07,70.45V75.05M136.57,70.45h3M136.57,75.05h3"/><path d="M145.90,69.80V72.80M144.40,69.80h3M144.40,72.80h3"/><path d="M200.73,70.50V72.90M199.23,70.50h3M199.23,72.90h3"/><path d="M208.56,72.20V76.80M207.06,72.20h3M207.06,76.80h3"/><path d="M216.39,78.60V91.00M214.89,78.60h3M214.89,91.00h3"/><path d="M224.22,94.00V107.00M222.72,94.00h3M222.72,107.00h3"/><path d="M232.06,146.60V159.80M230.56,146.60h3M230.56,159.80h3"/><path d="M239.89,169.40V180.80M238.39,169.40h3M238.39,180.80h3"/><path d="M247.72,184.90V187.90M246.22,184.90h3M246.22,187.90h3"/>
<rect x="42.29" y="186.40" width="3.6" height="3.6"/><rect x="50.12" y="186.40" width="3.6" height="3.6"/><rect x="57.95" y="186.40" width="3.6" height="3.6"/><rect x="65.78" y="186.20" width="3.6" height="3.6"/><rect x="73.62" y="185.80" width="3.6" height="3.6"/><rect x="81.45" y="184.00" width="3.6" height="3.6"/><rect x="89.28" y="182.10" width="3.6" height="3.6"/><rect x="97.11" y="176.20" width="3.6" height="3.6"/><rect x="104.94" y="150.00" width="3.6" height="3.6"/><rect x="112.78" y="106.60" width="3.6" height="3.6"/><rect x="120.61" y="75.90" width="3.6" height="3.6"/><rect x="128.44" y="71.50" width="3.6" height="3.6"/><rect x="136.27" y="70.95" width="3.6" height="3.6"/><rect x="144.10" y="69.50" width="3.6" height="3.6"/><rect x="151.94" y="68.60" width="3.6" height="3.6"/><rect x="159.77" y="68.60" width="3.6" height="3.6"/><rect x="167.60" y="68.60" width="3.6" height="3.6"/><rect x="175.43" y="68.60" width="3.6" height="3.6"/><rect x="183.26" y="68.60" width="3.6" height="3.6"/><rect x="191.10" y="68.70" width="3.6" height="3.6"/><rect x="198.93" y="69.90" width="3.6" height="3.6"/><rect x="206.76" y="72.70" width="3.6" height="3.6"/><rect x="214.59" y="83.00" width="3.6" height="3.6"/><rect x="222.42" y="98.70" width="3.6" height="3.6"/><rect x="230.26" y="151.40" width="3.6" height="3.6"/><rect x="238.09" y="173.30" width="3.6" height="3.6"/><rect x="245.92" y="184.60" width="3.6" height="3.6"/><rect x="253.75" y="186.10" width="3.6" height="3.6"/><rect x="261.58" y="186.40" width="3.6" height="3.6"/><rect x="269.42" y="186.40" width="3.6" height="3.6"/><rect x="277.25" y="186.40" width="3.6" height="3.6"/><rect x="285.08" y="186.40" width="3.6" height="3.6"/>
<path d="M254.4,65.4H282.5M254.4,63.6v3.6M282.5,63.6v3.6"/>
<rect x="267" y="63.6" width="3.6" height="3.6"/>
</g>
<path d="M44.1,47.5H294.7V188.2H44.1Z" stroke="#000" stroke-width="1.25" fill="none"/>
<path d="M44.10,188.2v-3M44.10,47.5v3M75.42,188.2v-3M75.42,47.5v3M106.75,188.2v-3M106.75,47.5v3M138.07,188.2v-3M138.07,47.5v3M169.40,188.2v-3M169.40,47.5v3M200.72,188.2v-3M200.72,47.5v3M232.05,188.2v-3M232.05,47.5v3M263.38,188.2v-3M263.38,47.5v3M294.70,188.2v-3M294.70,47.5v3M44.1,188.20h3M44.1,164.75h3M44.1,141.30h3M44.1,117.85h3M44.1,94.40h3M44.1,70.95h3M44.1,47.50h3M294.7,188.20h-3M294.7,141.30h-3M294.7,94.40h-3M294.7,47.50h-3" stroke="#000" stroke-width="0.85" fill="none"/>
<path d="M169.15,58V64.6" stroke="#000" stroke-width="1.25"/><path d="M168.3,62.6h1.9l-0.9,2.5z" fill="#000" stroke="#000" stroke-width="0.4"/>
<text x="37.6" y="191.70" text-anchor="end">0.0</text><text x="37.6" y="168.25" text-anchor="end">0.2</text><text x="37.6" y="144.80" text-anchor="end">0.4</text><text x="37.6" y="121.35" text-anchor="end">0.6</text><text x="37.6" y="97.90" text-anchor="end">0.8</text><text x="37.6" y="74.45" text-anchor="end">1.0</text><text x="37.6" y="51.00" text-anchor="end">1.2</text><text x="300.5" y="191.70">0.000</text><text x="300.5" y="144.80">0.003</text><text x="300.5" y="97.90">0.006</text><text x="300.5" y="51.00">0.009</text><text x="44.10" y="202.5" text-anchor="middle">16</text><text x="75.42" y="202.5" text-anchor="middle">12</text><text x="106.75" y="202.5" text-anchor="middle">8</text><text x="138.07" y="202.5" text-anchor="middle">4</text><text x="169.40" y="202.5" text-anchor="middle">0</text><text x="200.72" y="202.5" text-anchor="middle">4</text><text x="232.05" y="202.5" text-anchor="middle">8</text><text x="263.38" y="202.5" text-anchor="middle">12</text><text x="294.70" y="202.5" text-anchor="middle">16</text>
<text x="169" y="217.8" text-anchor="middle">number of wells</text>
<text x="248.6" y="58.8" text-anchor="end">ρ(z)</text>
<text x="248.6" y="68.5" text-anchor="end">n<tspan font-size="8" dy="2.5">i</tspan></text>
<text transform="translate(10.7,118.3) rotate(-90)" text-anchor="middle">n<tspan font-size="8" dy="2.5">i</tspan></text>
<text transform="translate(345.4,117.7) rotate(-90)" text-anchor="middle">ρ(z)</text>
</svg>
</body></html>
